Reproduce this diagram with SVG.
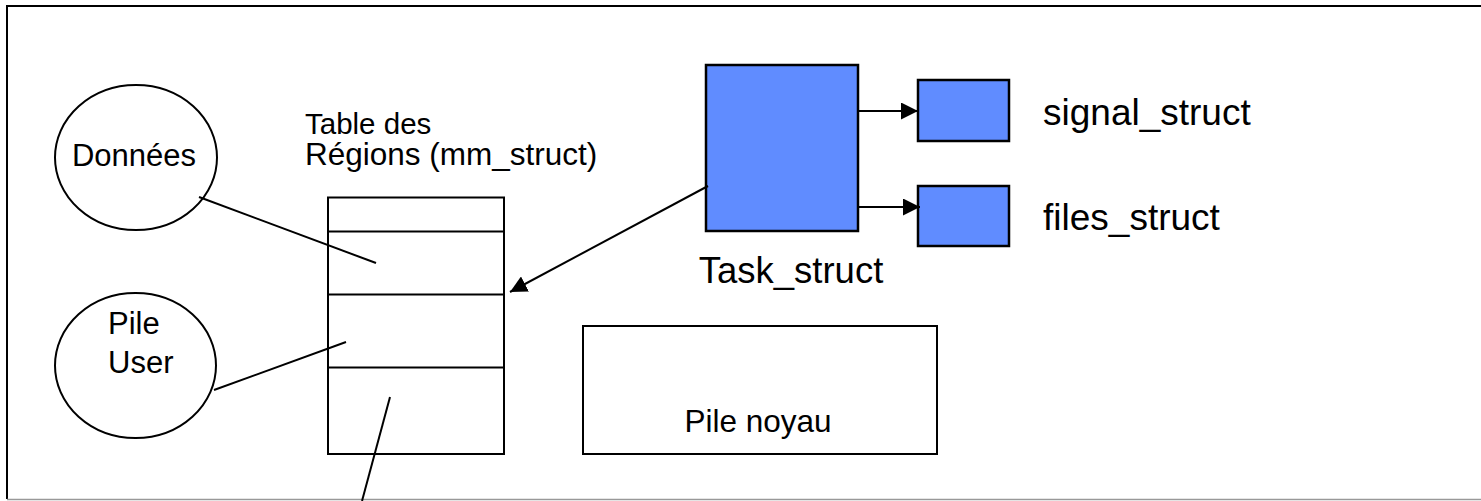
<svg xmlns="http://www.w3.org/2000/svg" width="1481" height="501" viewBox="0 0 1481 501">
<style>
.t{font-family:"Liberation Sans",Arial,sans-serif;fill:#000}
.s{fill:none;stroke:#000;stroke-width:2}
.w{fill:#fff;stroke:#000;stroke-width:2}
.b{fill:#608CFF;stroke:#000;stroke-width:2.5}
.c{fill:none;stroke:#000;stroke-width:2}
</style>
<defs>
<marker id="ah2" viewBox="0 0 10 10" refX="10" refY="5" markerWidth="17" markerHeight="17" markerUnits="userSpaceOnUse" orient="auto">
<path d="M0,0 L10,5 L0,10 z" fill="#000"/>
</marker>
</defs>
<rect width="1481" height="501" fill="#fff"/>
<g id="frame">
<polyline points="1481,6 7,6 7,499" class="s"/>
<line x1="7" y1="499.5" x2="1481" y2="499.5" stroke="#999" stroke-width="1.5"/>
</g>
<g id="donnees">
<ellipse cx="136" cy="157.5" rx="81" ry="72.5" class="w"/>
<text class="t" x="134" y="166" font-size="31" text-anchor="middle">Données</text>
</g>
<g id="pile-user">
<ellipse cx="135.5" cy="365.5" rx="80.5" ry="72.5" class="w"/>
<text class="t" x="108" y="334" font-size="31">Pile</text>
<text class="t" x="108" y="373" font-size="31">User</text>
</g>
<g id="table">
<text class="t" x="305" y="134" font-size="29.5">Table des</text>
<text class="t" x="305" y="165" font-size="31.5">Régions (mm_struct)</text>
<rect x="328" y="197.5" width="176" height="256.5" class="w"/>
<line x1="328" y1="231.5" x2="505" y2="231.5" class="s"/>
<line x1="328" y1="294.5" x2="505" y2="294.5" class="s"/>
<line x1="328" y1="367.5" x2="505" y2="367.5" class="s"/>
</g>
<g id="task-struct">
<rect x="706" y="65" width="152" height="166" class="b"/>
<text class="t" x="791" y="283" font-size="36.5" text-anchor="middle">Task_struct</text>
</g>
<g id="signal-struct">
<rect x="918" y="80" width="91" height="61" class="b"/>
<text class="t" x="1043" y="125" font-size="37">signal_struct</text>
</g>
<g id="files-struct">
<rect x="918" y="186" width="91" height="60" class="b"/>
<text class="t" x="1043" y="230" font-size="37">files_struct</text>
</g>
<g id="pile-noyau">
<rect x="583" y="326" width="354" height="128" class="w"/>
<text class="t" x="758" y="432" font-size="31.5" text-anchor="middle">Pile noyau</text>
</g>
<g id="connectors">
<line x1="199" y1="197" x2="376" y2="263" class="c"/>
<line x1="214" y1="390" x2="346" y2="342" class="c"/>
<line x1="390" y1="397" x2="362" y2="501" class="c"/>
<line x1="708" y1="186" x2="510" y2="292" class="c" marker-end="url(#ah2)"/>
<line x1="858" y1="111" x2="918" y2="111" class="c" marker-end="url(#ah2)"/>
<line x1="858" y1="207" x2="920" y2="207" class="c" marker-end="url(#ah2)"/>
</g>
</svg>
